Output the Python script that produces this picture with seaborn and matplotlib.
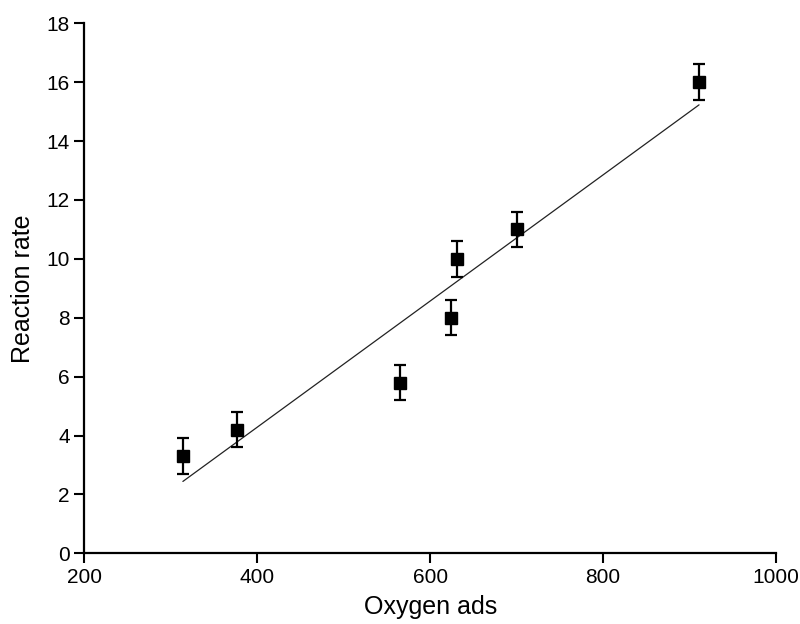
import numpy as np
import pandas as pd
import seaborn as sns
import matplotlib.pyplot as plt

# values
oxygen_ads = [314, 377, 565, 624, 631, 700, 911]
reaction_rate = [3.3, 4.2, 5.8, 8.0, 10.0, 11.0, 16.0]
rate_err = [0.6, 0.6, 0.6, 0.6, 0.6, 0.6, 0.6]

x_ticks = [200, 400, 600, 800, 1000]
y_ticks = [0, 2, 4, 6, 8, 10, 12, 14, 16, 18]

df = pd.DataFrame({'oxygen': oxygen_ads, 'rate': reaction_rate, 'err': rate_err})

sns.set_style('ticks')
plt.rcParams['font.family'] = ['Liberation Sans', 'DejaVu Sans']

fig = plt.figure(figsize=(8, 6.24), dpi=100)
ax = fig.add_axes([0.1054, 0.1133, 0.8646, 0.8494])

# linear fit over the data range
sns.regplot(data=df, x='oxygen', y='rate', ax=ax, scatter=False, ci=None,
            truncate=True, line_kws={'color': '#222222', 'lw': 0.9})

ax.errorbar(df['oxygen'], df['rate'], yerr=df['err'], fmt='s', color='black',
            ms=8, elinewidth=1.6, capsize=4, capthick=1.6, zorder=3)

ax.set_xlim(200, 1000)
ax.set_ylim(0, 18)
ax.set_xticks(x_ticks)
ax.set_yticks(y_ticks)
ax.set_xlabel('Oxygen ads', fontsize=18, labelpad=6, color='black')
ax.set_ylabel('Reaction rate', fontsize=18, labelpad=8, color='black')
ax.tick_params(axis='both', labelsize=15, length=7, width=1.5, color='black',
               labelcolor='black', direction='out')
for side in ['left', 'bottom']:
    ax.spines[side].set_linewidth(1.6)
    ax.spines[side].set_color('black')
sns.despine(ax=ax)

fig.savefig('out.png', dpi=100)
